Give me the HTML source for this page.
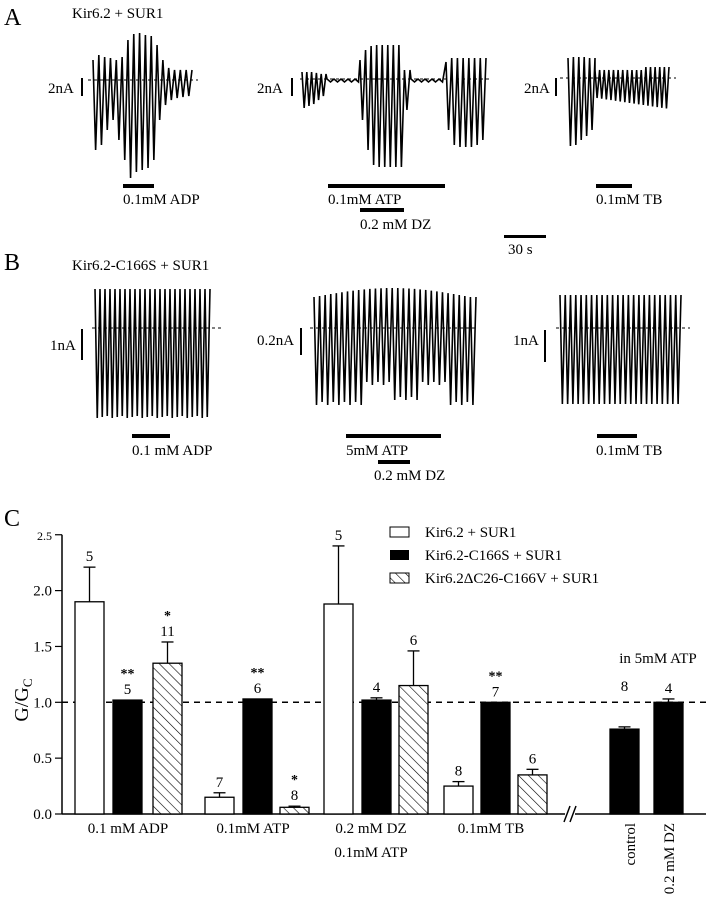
<!DOCTYPE html>
<html><head><meta charset="utf-8"><style>
body{margin:0;background:#fff;}
svg{display:block;font-family:"Liberation Serif",serif;}
</style></head><body>
<svg id="s" width="706" height="900" xmlns="http://www.w3.org/2000/svg">
<defs>
<pattern id="h" patternUnits="userSpaceOnUse" width="7" height="7" patternTransform="rotate(-45)">
<rect width="7" height="7" fill="#fff"/><line x1="0" y1="0" x2="0" y2="7" stroke="#000" stroke-width="1.2"/>
</pattern>
</defs>
<g font-size="15" fill="#000">
<text x="4" y="25" font-size="24">A</text>
<text x="72" y="18">Kir6.2 + SUR1</text>
<text x="48" y="93">2nA</text><line x1="82" y1="78" x2="82" y2="96" stroke="#000" stroke-width="2"/>
<text x="257" y="93">2nA</text><line x1="292" y1="78" x2="292" y2="96" stroke="#000" stroke-width="2"/>
<text x="524" y="93">2nA</text><line x1="556" y1="78" x2="556" y2="96" stroke="#000" stroke-width="2"/>
<rect x="123" y="184" width="31" height="4"/><text x="123" y="204">0.1mM ADP</text>
<rect x="328" y="184" width="117" height="4"/><text x="328" y="204">0.1mM ATP</text>
<rect x="360" y="208" width="44" height="4"/><text x="360" y="229">0.2 mM DZ</text>
<rect x="596" y="184" width="36" height="4"/><text x="596" y="204">0.1mM TB</text>
<rect x="504" y="235" width="42" height="3"/><text x="508" y="254">30 s</text>

<text x="4" y="270" font-size="24">B</text>
<text x="72" y="270">Kir6.2-C166S + SUR1</text>
<text x="50" y="350">1nA</text><line x1="82" y1="329" x2="82" y2="360" stroke="#000" stroke-width="2"/>
<text x="257" y="345">0.2nA</text><line x1="301" y1="328" x2="301" y2="355" stroke="#000" stroke-width="2"/>
<text x="513" y="345">1nA</text><line x1="545" y1="330" x2="545" y2="362" stroke="#000" stroke-width="2"/>
<rect x="132" y="434" width="38" height="4"/><text x="132" y="455">0.1 mM ADP</text>
<rect x="346" y="434" width="95" height="4"/><text x="346" y="455">5mM ATP</text>
<rect x="378" y="460" width="32" height="4"/><text x="374" y="480">0.2 mM DZ</text>
<rect x="597" y="434" width="40" height="4"/><text x="596" y="455">0.1mM TB</text>

<text x="4" y="526" font-size="24">C</text>
<rect x="390" y="527" width="19" height="10" fill="#fff" stroke="#000"/><text x="425" y="537">Kir6.2 + SUR1</text>
<rect x="390" y="550" width="19" height="10"/><text x="425" y="560">Kir6.2-C166S + SUR1</text>
<rect x="390" y="573" width="19" height="10" fill="url(#h)" stroke="#000"/><text x="425" y="583">Kir6.2ΔC26-C166V + SUR1</text>
</g>
<g id="traces" fill="none" stroke="#000" stroke-width="1.6"></g>
<g id="chart"></g>
</svg>
<script>
var NS="http://www.w3.org/2000/svg",T=document.getElementById('traces'),C=document.getElementById('chart');
function el(p,n,a,t){var e=document.createElementNS(NS,n);for(var k in a)e.setAttribute(k,a[k]);if(t!=null)e.textContent=t;p.appendChild(e);return e;}
function burst(x0,x1,tops,bots){var n=tops.length,p=(x1-x0)/n,pts=[];for(var i=0;i<n;i++){var x=x0+i*p;pts.push(x+','+tops[i]);pts.push((x+p*0.45)+','+bots[i]);}pts.push(x1+','+tops[n-1]);return pts;}
function ripple(x0,x1,y){var pts=[],i=0;for(var x=x0;x<x1;x+=3.5,i++)pts.push(x+','+(y+(i%2?2:-1)));return pts;}
function line(pts){el(T,'polyline',{points:pts.join(' ')});}
function dash(x0,x1,y){el(T,'line',{x1:x0,y1:y,x2:x1,y2:y,'stroke-dasharray':'3,3','stroke-width':1});}
function arr(n,f){var a=[];for(var i=0;i<n;i++)a.push(f(i,n));return a;}
dash(88,198,80);
line(burst(93,192,[60,55,57,58,60,57,40,34,33,35,36,45,60,68,70,70,70],[150,145,130,120,140,160,178,172,170,168,160,120,105,100,98,97,96]));
dash(300,490,79);
line(burst(302,326,[72,72,72,73,74],[108,106,104,100,96]).concat(ripple(327,360,80)).concat(burst(360,410,[60,50,46,45,45,45,45,45,70],[120,150,165,167,167,167,167,167,110])).concat(ripple(411,445,80)).concat(burst(446,486,[62,58,58,58,58,58,58],[130,145,147,147,147,145,140])));
dash(560,676,78);
line(burst(568,595,[58,57,57,57,58],[146,145,140,136,130]).concat(burst(595,669,arr(16,function(i){return 70-(i>10?3:0)}),arr(16,function(i){return 98+i*0.7}))));
dash(92,222,328);
line(burst(95,210,arr(23,function(){return 289}),arr(23,function(i){return 418-(i%3)})));
dash(310,478,328);
line(burst(314,476,arr(29,function(i){return 297-Math.sin(i/28*Math.PI)*9}),arr(29,function(i){var v=405;if(i>=9&&i<=13)v=385;else if(i>=14&&i<=18)v=400;else if(i>=19&&i<=23)v=385;return v-(i%2)*3;})));
dash(556,690,328);
line(burst(560,681,arr(23,function(){return 295}),arr(23,function(){return 404})));

function y(v){return 814-v*111.7;}
el(C,'line',{x1:62,y1:y(2.5),x2:62,y2:814,stroke:'#000','stroke-width':1.5});
el(C,'line',{x1:62,y1:814,x2:706,y2:814,stroke:'#000','stroke-width':1.5});
for(var v=0;v<=2.5;v+=0.5){el(C,'line',{x1:55,y1:y(v),x2:62,y2:y(v),stroke:'#000','stroke-width':1.2});
el(C,'text',{x:52,y:y(v)+5,'text-anchor':'end','font-size':v==2.5?12:15},v.toFixed(1));}
el(C,'text',{transform:'translate(28,700) rotate(-90)','text-anchor':'middle','font-size':20},'G/G').appendChild(function(){var s=document.createElementNS(NS,'tspan');s.setAttribute('font-size','13');s.setAttribute('dy','4');s.textContent='C';return s;}());
el(C,'line',{x1:62,y1:y(1),x2:706,y2:y(1),stroke:'#000','stroke-width':1.5,'stroke-dasharray':'6,5'});
var bars=[[75,1.9,0.31,'w','5',''],[113,1.02,0,'b','5','**'],[153,1.35,0.19,'h','11','*'],
[205,0.15,0.04,'w','7',''],[243,1.03,0,'b','6','**'],[280,0.06,0.01,'h','8','*'],
[324,1.88,0.52,'w','5',''],[362,1.02,0.02,'b','4',''],[399,1.15,0.31,'h','6',''],
[444,0.25,0.04,'w','8',''],[481,1.0,0,'b','7','**'],[518,0.35,0.05,'h','6',''],
[610,0.76,0.02,'b','8',''],[654,1.0,0.03,'b','4','']];
bars.forEach(function(b){var x=b[0],w=29,top=y(b[1]);
var fill=b[3]=='w'?'#fff':b[3]=='b'?'#000':'url(#h)';
if(b[2]>0){var ty=y(b[1]+b[2]);el(C,'line',{x1:x+w/2,y1:top,x2:x+w/2,y2:ty,stroke:'#000','stroke-width':1.3});el(C,'line',{x1:x+w/2-6,y1:ty,x2:x+w/2+6,y2:ty,stroke:'#000','stroke-width':1.3});}
el(C,'rect',{x:x,y:top,width:w,height:814-top,fill:fill,stroke:'#000','stroke-width':1.3});
var ly=y(b[1]+b[2])-6;if(b[0]==610)ly=691;if(b[0]==654)ly=y(1.03)-6;
el(C,'text',{x:x+w/2,y:ly,'text-anchor':'middle','font-size':15},b[4]);
if(b[5])el(C,'text',{x:x+w/2,y:ly-16,'text-anchor':'middle','font-size':14,'font-weight':'bold'},b[5]);});
el(C,'rect',{x:565,y:806,width:10,height:16,fill:'#fff'});
el(C,'line',{x1:564,y1:822,x2:570,y2:806,stroke:'#000','stroke-width':1.5});
el(C,'line',{x1:570,y1:822,x2:576,y2:806,stroke:'#000','stroke-width':1.5});
[['0.1 mM ADP',128,833],['0.1mM ATP',253,833],['0.2 mM DZ',371,833],['0.1mM ATP',371,857],['0.1mM TB',491,833],['in 5mM ATP',658,663]].forEach(function(t){el(C,'text',{x:t[1],y:t[2],'text-anchor':'middle','font-size':15},t[0]);});
el(C,'text',{transform:'translate(635,823) rotate(-90)','text-anchor':'end','font-size':15},'control');
el(C,'text',{transform:'translate(674,823) rotate(-90)','text-anchor':'end','font-size':15},'0.2 mM DZ');
</script>
</body></html>
